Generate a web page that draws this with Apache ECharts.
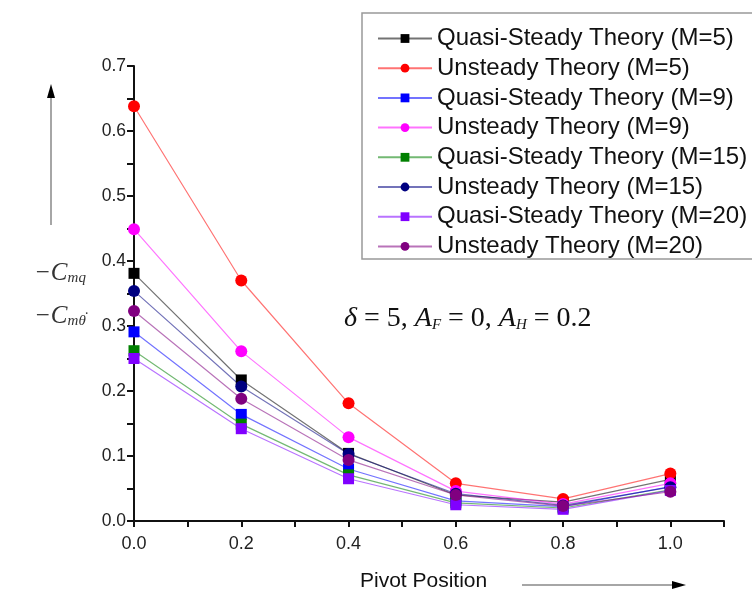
<!DOCTYPE html>
<html>
<head>
<meta charset="utf-8">
<script src="https://cdn.jsdelivr.net/npm/echarts@6/dist/echarts.min.js"></script>
<style>html,body{margin:0;padding:0;background:#fff;}#c{width:752px;height:597px;}</style>
</head>
<body>
<div id="c"></div>
<script>
const pivot = [0.0, 0.2, 0.4, 0.6, 0.8, 1.0];
const seriesNames = [
  'Quasi-Steady Theory (M=5)', 'Unsteady Theory (M=5)',
  'Quasi-Steady Theory (M=9)', 'Unsteady Theory (M=9)',
  'Quasi-Steady Theory (M=15)', 'Unsteady Theory (M=15)',
  'Quasi-Steady Theory (M=20)', 'Unsteady Theory (M=20)'
];
const qsM5  = [0.381, 0.217, 0.104, 0.040, 0.029, 0.064];
const usM5  = [0.638, 0.370, 0.181, 0.058, 0.034, 0.073];
const qsM9  = [0.291, 0.164, 0.080, 0.031, 0.022, 0.053];
const usM9  = [0.449, 0.261, 0.129, 0.046, 0.026, 0.058];
const qsM15 = [0.262, 0.149, 0.071, 0.028, 0.020, 0.048];
const usM15 = [0.354, 0.207, 0.103, 0.042, 0.024, 0.052];
const qsM20 = [0.250, 0.142, 0.065, 0.025, 0.018, 0.047];
const usM20 = [0.323, 0.188, 0.094, 0.040, 0.023, 0.045];
const yTicks = [0.0, 0.1, 0.2, 0.3, 0.4, 0.5, 0.6, 0.7];
const xTicks = [0.0, 0.2, 0.4, 0.6, 0.8, 1.0];

const allData = [qsM5, usM5, qsM9, usM9, qsM15, usM15, qsM20, usM20];
const colors = ['#000000', '#ff0000', '#0000ff', '#ff00ff', '#008000', '#000080', '#8000ff', '#800080'];
const symbols = ['rect', 'circle', 'rect', 'circle', 'rect', 'circle', 'rect', 'circle'];

const chart = echarts.init(document.getElementById('c'), null, {renderer: 'canvas'});
const series = allData.map((d, i) => ({
  name: seriesNames[i],
  type: 'line',
  data: d.map((v, j) => [pivot[j], v]),
  symbol: symbols[i],
  symbolSize: symbols[i] === 'rect' ? 11 : 12,
  itemStyle: {color: colors[i]},
  lineStyle: {color: colors[i], width: 1.2, opacity: 0.55},
  emphasis: {disabled: true},
  animation: false
}));

const serif = '"Liberation Serif", "DejaVu Serif", serif';
const sans = '"Liberation Sans", Arial, sans-serif';

chart.setOption({
  animation: false,
  backgroundColor: '#fff',
  grid: {left: 134, right: 28, top: 66, bottom: 76},
  legend: {
    orient: 'vertical',
    left: 362, top: 13,
    padding: [13, 30, 0, 15],
    borderColor: '#999', borderWidth: 1.5,
    itemWidth: 54, itemHeight: 11, itemGap: 4.7,
    textStyle: {fontFamily: sans, fontSize: 24, color: '#111', lineHeight: 25},
    data: seriesNames
  },
  xAxis: {
    type: 'value', min: 0, max: 1.1, interval: 0.2,
    axisLine: {onZero: false, lineStyle: {color: '#111', width: 2}},
    axisTick: {length: 6, lineStyle: {width: 2, color: '#111'}},
    minorTick: {show: true, splitNumber: 2, length: 6, lineStyle: {width: 2, color: '#111'}},
    splitLine: {show: false},
    axisLabel: {
      margin: 14, fontFamily: sans, fontSize: 18, color: '#222', showMaxLabel: false,
      formatter: v => (xTicks.some(t => Math.abs(t - v) < 1e-6) ? v.toFixed(1) : '')
    }
  },
  yAxis: {
    type: 'value', min: 0, max: 0.7, interval: 0.1,
    axisLine: {show: true, lineStyle: {color: '#111', width: 2}},
    axisTick: {show: true, length: 7, lineStyle: {width: 2, color: '#111'}},
    minorTick: {show: true, splitNumber: 2, length: 7, lineStyle: {width: 2, color: '#111'}},
    splitLine: {show: false},
    axisLabel: {
      margin: 8, fontFamily: sans, fontSize: 17.5, color: '#222',
      formatter: v => (yTicks.some(t => Math.abs(t - v) < 1e-6) ? v.toFixed(1) : '')
    }
  },
  graphic: [
    // vertical arrow on y side
    {type: 'line', shape: {x1: 51, y1: 225, x2: 51, y2: 92}, style: {stroke: '#888', lineWidth: 1.5}},
    {type: 'polygon', shape: {points: [[51, 84], [47, 98], [55, 98]]}, style: {fill: '#000'}},
    {type: 'text', left: 34, top: 261, style: {
      text: '{c|−C}{s|mq}',
      rich: {
        c: {fontFamily: serif, fontStyle: 'italic', fontSize: 25, fill: '#333', verticalAlign: 'bottom'},
        s: {fontFamily: serif, fontStyle: 'italic', fontSize: 15, fill: '#333', padding: [12, 0, 0, 0], verticalAlign: 'bottom'}
      }
    }},
    {type: 'text', left: 34, top: 304, style: {
      text: '{c|−C}{s|mθ}',
      rich: {
        c: {fontFamily: serif, fontStyle: 'italic', fontSize: 25, fill: '#333', verticalAlign: 'bottom'},
        s: {fontFamily: serif, fontStyle: 'italic', fontSize: 15, fill: '#333', padding: [12, 0, 0, 0], verticalAlign: 'bottom'}
      }
    }},
    {type: 'text', left: 84, top: 311, style: {text: '˙', fontFamily: serif, fontSize: 16, fill: '#333'}},
    // parameter annotation
    {type: 'text', left: 344, top: 305, style: {
      text: '{i|δ}{n| = 5, }{i|A}{s|F}{n| = 0, }{i|A}{s|H}{n| = 0.2}',
      rich: {
        i: {fontFamily: serif, fontStyle: 'italic', fontSize: 28, fill: '#111', verticalAlign: 'bottom'},
        n: {fontFamily: serif, fontSize: 28, fill: '#111', verticalAlign: 'bottom'},
        s: {fontFamily: serif, fontStyle: 'italic', fontSize: 15, fill: '#111', padding: [10, 0, 0, 0], verticalAlign: 'bottom'}
      }
    }},
    // x axis name and arrow
    {type: 'text', left: 360, top: 571, style: {text: 'Pivot Position', fontFamily: sans, fontSize: 21, fill: '#111'}},
    {type: 'line', shape: {x1: 522, y1: 585, x2: 676, y2: 585}, style: {stroke: '#888', lineWidth: 1.5}},
    {type: 'polygon', shape: {points: [[686, 585], [672, 581], [672, 589]]}, style: {fill: '#000'}}
  ],
  series: series
});
</script>
</body>
</html>
